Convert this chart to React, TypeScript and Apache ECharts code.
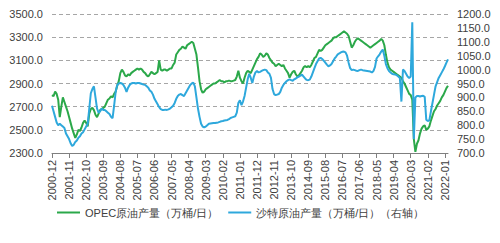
import React, { useEffect, useRef } from "react";
import * as echarts from "echarts";

// Monthly data from 2000-12 to 2022-03
const startYear = 2000;
const startMonth = 12;
const monthCount = 256;

const opecOutput: number[] = [
  2800, 2790, 2830, 2810, 2760, 2610, 2700, 2780, 2740, 2700,
  2660, 2610, 2560, 2510, 2470, 2430, 2460, 2500, 2490, 2520,
  2560, 2580, 2560, 2530, 2640, 2680, 2690, 2670, 2630, 2610,
  2640, 2670, 2680, 2690, 2700, 2730, 2760, 2770, 2790, 2780,
  2810, 2830, 2880, 2920, 2990, 3020, 3000, 2970, 2960, 2980,
  2970, 2990, 3000, 3010, 3020, 3030, 3020, 3030, 3020, 3000,
  2990, 2970, 2960, 2980, 3000, 2990, 2980, 2990, 3000, 3100,
  3020, 3010, 3020, 3020, 3010, 3020, 3030, 3030, 3060, 3080,
  3150, 3170, 3190, 3200, 3220, 3210, 3200, 3230, 3240, 3250,
  3260, 3250, 3200, 3150, 3040, 2920, 2850, 2820, 2830, 2850,
  2860, 2870, 2880, 2890, 2900, 2900, 2910, 2920, 2930, 2920,
  2920, 2910, 2920, 2920, 2925, 2920, 2920, 2925, 2930, 2960,
  3010, 2950, 2920, 2900, 2950, 2990, 3010, 3000, 2990, 3020,
  3050, 3080, 3110, 3130, 3160, 3150, 3130, 3140, 3160, 3150,
  3120, 3100, 3080, 3070, 3050, 3060, 3070, 3060, 3050, 3060,
  3030, 3010, 2990, 2950, 2980, 3000, 3010, 2980, 2960, 2970,
  2990, 3010, 3040, 3050, 3040, 3050, 3040, 3060, 3090, 3120,
  3130, 3160, 3190, 3180, 3190, 3210, 3230, 3240, 3250, 3260,
  3270, 3290, 3300, 3300, 3310, 3320, 3330, 3340, 3350, 3340,
  3330, 3310, 3260, 3210, 3230, 3260, 3280, 3290, 3280, 3270,
  3260, 3250, 3240, 3230, 3220, 3210, 3220, 3230, 3240, 3250,
  3260, 3270, 3285, 3270, 3230, 3150, 3080, 3040, 3020, 3010,
  3000, 2990, 2980, 2970, 2960, 2950, 2920, 2900, 2870, 2840,
  2810, 2800, 2760, 2420, 2310, 2380, 2410, 2470, 2510, 2530,
  2540, 2500, 2510, 2530, 2580, 2620, 2660, 2680, 2710, 2730,
  2750, 2780, 2800, 2830, 2860, 2880,
];

const saudiOutput: number[] = [
  870, 850, 830, 810, 800, 805, 800, 795, 790, 770,
  760, 750, 735, 725, 730, 740, 745, 755, 760, 770,
  775, 785, 795, 805, 860, 915, 930, 940, 900, 860,
  845, 850, 860, 855, 855, 850, 845, 840, 830, 825,
  870, 920, 945, 950, 952, 950, 945, 935, 920, 935,
  945, 950, 952, 952, 950, 952, 952, 950, 948, 946,
  945, 940, 935, 925, 920, 910, 895, 885, 875, 865,
  858, 855, 855, 856, 855, 857, 860, 865, 870, 880,
  895, 905, 910, 912, 908, 905, 915, 925, 935, 945,
  950, 953, 940, 900, 860, 830, 805, 795, 792, 795,
  800, 805, 806, 807, 808, 808, 809, 810, 812, 814,
  815, 817, 818, 819, 822, 826, 828, 830, 832, 845,
  880, 890, 872, 885, 905, 935, 965, 985, 970, 952,
  975, 990, 995, 990, 992, 995, 998, 1000, 998, 990,
  985, 970, 930, 912, 908, 910, 912, 920, 935, 945,
  952, 958, 962, 965, 962, 960, 965, 968, 972, 975,
  978, 982, 975, 968, 963, 962, 964, 975, 990, 1005,
  1020, 1030, 1040, 1042, 1038, 1032, 1025, 1018, 1012, 1015,
  1020, 1030, 1040, 1047, 1055, 1058, 1062, 1064, 1065, 1062,
  1050, 1025, 1005, 998, 1000, 998, 996, 995, 998, 1000,
  998, 997, 996, 995, 994, 993, 990, 995, 1010, 1040,
  1048, 1055, 1065, 1072, 1050, 1020, 1005, 995, 990, 985,
  983, 982, 980, 975, 970, 885, 1000, 995, 985, 975,
  970, 975, 1170, 750, 900, 905, 905, 903, 905, 906,
  902, 820, 815, 818, 850, 880, 910, 940, 955, 970,
  980, 990, 1000, 1012, 1025, 1037,
];

const seriesNames: string[] = [
  "OPEC原油产量（万桶/日）",
  "沙特原油产量（万桶/日）（右轴）",
];

const months: string[] = [];
for (let i = 0; i < monthCount; i++) {
  const total = startYear * 12 + (startMonth - 1) + i;
  const y = Math.floor(total / 12);
  const m = (total % 12) + 1;
  months.push(`${y}-${m < 10 ? "0" + m : m}`);
}

const FONT = "Liberation Sans, Arial, sans-serif";
const TEXT = "#404040";
const GREEN = "#2ba84a";
const CYAN = "#2ea8dc";

export default function App() {
  const ref = useRef<HTMLDivElement>(null);
  useEffect(() => {
    if (!ref.current) return;
    const chart = echarts.init(ref.current, undefined, { renderer: "svg" });
    chart.setOption({
      animation: false,
      backgroundColor: "#ffffff",
      textStyle: { fontFamily: FONT },
      grid: { left: 52, right: 52, top: 14, bottom: 90, containLabel: false },
      legend: {
        left: 52,
        top: 202,
        icon: "rect",
        itemWidth: 23,
        itemHeight: 2,
        itemGap: 10,
        textStyle: { fontFamily: FONT, fontSize: 11, color: TEXT },
        data: seriesNames,
      },
      xAxis: {
        type: "category",
        data: months,
        boundaryGap: false,
        axisLine: { show: true, lineStyle: { color: "#7f7f7f", width: 1 } },
        axisTick: {
          show: true,
          interval: 10,
          length: 5,
          lineStyle: { color: "#7f7f7f" },
        },
        axisLabel: {
          interval: 10,
          rotate: 90,
          margin: 7,
          fontSize: 11,
          color: TEXT,
          fontFamily: FONT,
        },
        splitLine: { show: false },
      },
      yAxis: [
        {
          type: "value",
          min: 2300,
          max: 3500,
          interval: 200,
          axisLine: { show: false },
          axisTick: { show: false },
          axisLabel: {
            fontSize: 11,
            color: TEXT,
            fontFamily: FONT,
            margin: 9,
            formatter: (v: number) => v.toFixed(1),
          },
          splitLine: {
            show: true,
            lineStyle: { color: "#a6a6a6", type: [4, 3], width: 1 },
          },
        },
        {
          type: "value",
          min: 700,
          max: 1200,
          interval: 50,
          axisLine: { show: false },
          axisTick: { show: false },
          axisLabel: {
            fontSize: 11,
            color: TEXT,
            fontFamily: FONT,
            margin: 9,
            formatter: (v: number) => v.toFixed(1),
          },
          splitLine: { show: false },
        },
      ],
      series: [
        {
          name: seriesNames[0],
          type: "line",
          yAxisIndex: 0,
          data: opecOutput,
          symbol: "none",
          lineStyle: { color: GREEN, width: 2 },
          itemStyle: { color: GREEN },
          z: 2,
        },
        {
          name: seriesNames[1],
          type: "line",
          yAxisIndex: 1,
          data: saudiOutput,
          symbol: "none",
          lineStyle: { color: CYAN, width: 2 },
          itemStyle: { color: CYAN },
          z: 3,
        },
      ],
    });
    return () => chart.dispose();
  }, []);
  return <div ref={ref} style={{ width: 500, height: 243, position: "absolute", left: 0, top: 0 }} />;
}
